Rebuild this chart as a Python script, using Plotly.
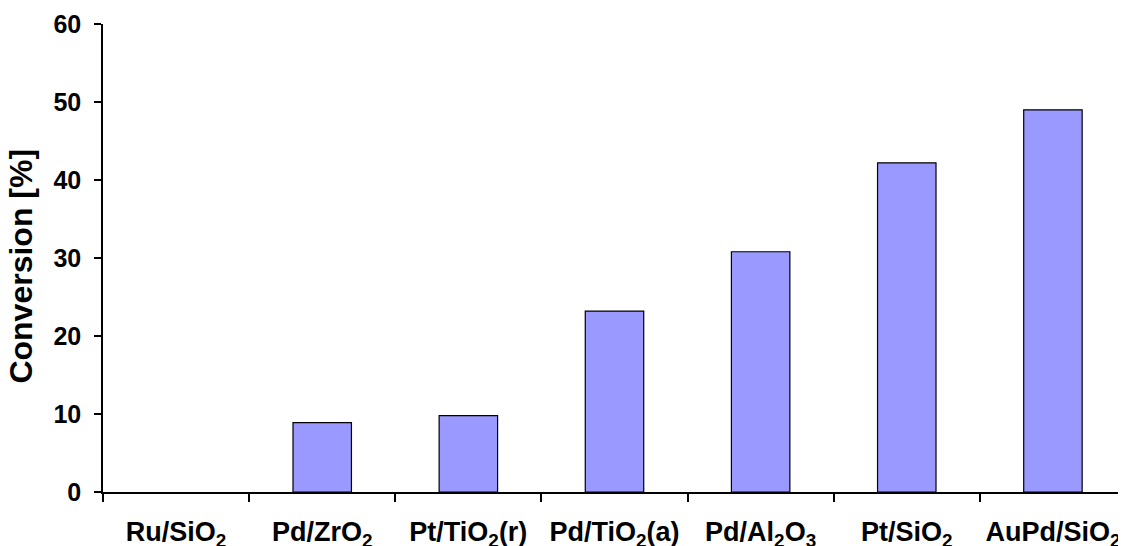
import plotly.graph_objects as go

categories = ["Ru/SiO<sub>2</sub>", "Pd/ZrO<sub>2</sub>", "Pt/TiO<sub>2</sub>(r)", "Pd/TiO<sub>2</sub>(a)",
              "Pd/Al<sub>2</sub>O<sub>3</sub>", "Pt/SiO<sub>2</sub>", "AuPd/SiO<sub>2</sub>"]
conversion = [0.0, 8.9, 9.8, 23.2, 30.8, 42.2, 49.0]
y_ticks = [0, 10, 20, 30, 40, 50, 60]
y_title = "Conversion [%]"

FONT = "Liberation Sans, Arial, sans-serif"

fig = go.Figure()
fig.add_trace(go.Bar(
    x=categories, y=conversion, width=0.4,
    marker=dict(color="#9999FF",
                line=dict(color="black", width=[0 if v == 0 else 1.2 for v in conversion])),
))

# page body has an 8px margin, so the figure is 8px smaller than the window
fig.update_layout(
    width=1118, height=538,
    margin=dict(l=95, r=0, t=16, b=54),
    paper_bgcolor="white", plot_bgcolor="white",
    showlegend=False,
    font=dict(family=FONT, color="black", weight="bold"),
)
fig.update_xaxes(
    type="category", range=[-0.5, 6.5], automargin=False,
    showline=True, linecolor="black", linewidth=1.5,
    ticks="outside", tickson="boundaries", ticklen=8, tickwidth=1.5, tickcolor="black",
    tickfont=dict(family=FONT, size=27, color="black", weight="bold"),
    ticklabelstandoff=15,
    showgrid=False,
)
fig.update_yaxes(
    range=[0, 60], tickvals=y_ticks, automargin=False,
    showline=True, linecolor="black", linewidth=1.5,
    ticks="outside", ticklen=7, tickwidth=1.5, tickcolor="black",
    tickfont=dict(family=FONT, size=25, color="black", weight="bold"),
    ticklabelstandoff=8,
    showgrid=False, zeroline=False,
)
fig.add_annotation(
    text=y_title, textangle=-90, showarrow=False,
    xref="paper", yref="paper", x=-0.080, y=0.482,
    xanchor="center", yanchor="middle",
    font=dict(family=FONT, size=32, color="black", weight="bold"),
)

fig.write_html("out.html")
